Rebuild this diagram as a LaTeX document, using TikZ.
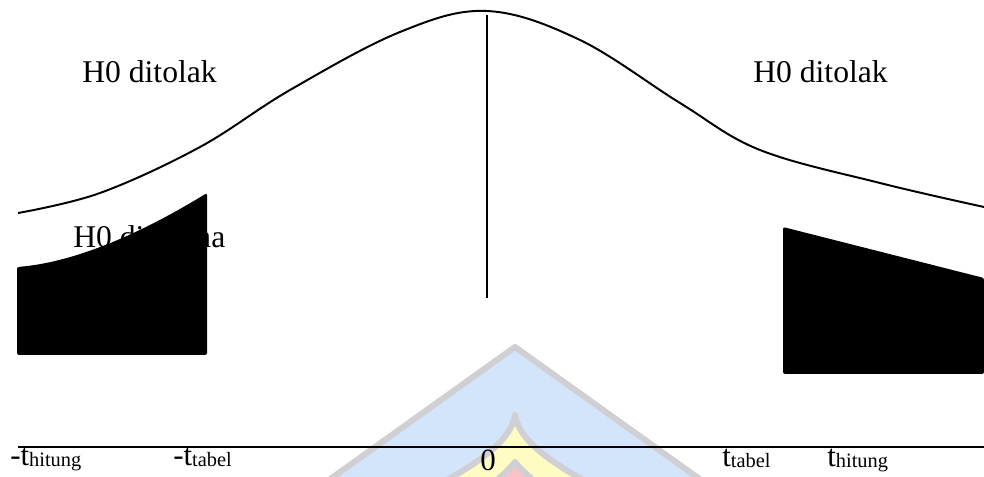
\documentclass[tikz,border=0pt]{standalone}
\usepackage{fontspec}
\setmainfont{Liberation Serif}
\newcommand{\lowtext}[1]{\raisebox{-1.2pt}{\fontsize{14.5}{16}\selectfont #1}}
\definecolor{wmblue}{RGB}{210,229,250}
\definecolor{wmgray}{RGB}{208,208,212}
\definecolor{wmyellow}{RGB}{255,252,195}
\definecolor{wmred}{RGB}{250,196,196}

\begin{document}
\begin{tikzpicture}[
    x=0.025cm, y=-0.025cm,
    area text/.style={inner sep=0pt, anchor=base west, font=\fontsize{22.5}{26}\selectfont},
    axis text/.style={inner sep=0pt, anchor=base west, font=\fontsize{22}{26}\selectfont},
    curve line/.style={line width=1.4pt, black},
    tail/.style={fill=black, rounded corners=1.5pt},
    watermark/.style={draw=wmgray, line width=4.3pt, line join=round}
]
  \useasboundingbox (0,0) rectangle (984,477);

  % faint logo behind the axis
  \begin{scope}
    \clip (0,0) rectangle (984,477);
    \filldraw[watermark, fill=wmblue] (301,500) -- (515,347) -- (729,500) -- cycle;
    \filldraw[watermark, fill=wmyellow] (515,415) .. controls (511,440) and (482,462) .. (425,492)
      -- (605,492) .. controls (548,462) and (519,440) .. cycle;
    \filldraw[watermark, fill=wmred] (515,462) .. controls (505,475) and (490,485) .. (472,500)
      -- (558,500) .. controls (540,485) and (525,475) .. cycle;
  \end{scope}

  % density curve and centre line
  \draw[curve line] plot[smooth, tension=0.6] coordinates {(18,213) (100,193) (200,147)
    (290,90) (400,32) (487,11) (580,40) (680,103) (760,150) (880,183) (984,207)};
  \draw[curve line] (487,15) -- (487,298);

  % areas
  \node[area text] (reject left)  at (82,83)  {H0 ditolak};
  \node[area text] (reject right) at (753,83) {H0 ditolak};
  \node[area text] (accept)       at (73,248) {H0 diterima};

  % black tails
  \fill[tail] (17,355) -- (17,267) .. controls (80,262) and (150,228) .. (207,193)
    -- (207,355) -- cycle;
  \fill[tail] (984,374) -- (783,374) -- (783,227) -- (984,278) -- cycle;

  % axis
  \draw[curve line] (18,447) -- (984,447);
  \node[axis text] (hit left)  at (10,465)  {-t\lowtext{hitung}};
  \node[axis text] (tab left)  at (173,465) {-t\lowtext{tabel}};
  \node[axis text, anchor=base] (zero) at (488,470) {0};
  \node[axis text] (tab right) at (722,466) {t\lowtext{tabel}};
  \node[axis text] (hit right) at (827,466) {t\lowtext{hitung}};
\end{tikzpicture}
\end{document}
